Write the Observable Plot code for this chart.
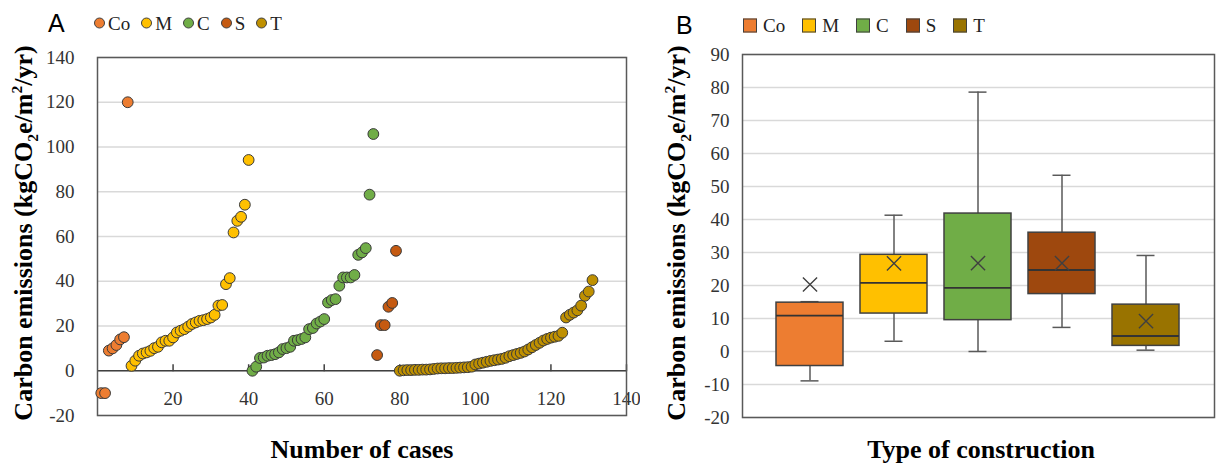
<!DOCTYPE html>
<html><head><meta charset="utf-8">
<script src="https://cdn.jsdelivr.net/npm/d3@7"></script>
<script src="https://cdn.jsdelivr.net/npm/@observablehq/plot@0.6"></script>
<style>
body{margin:0;background:#fff;}
#wrap{position:relative;width:1216px;height:464px;overflow:hidden;font-family:"Liberation Serif","Times New Roman",serif;color:#000;}
.svgbox{position:absolute;}
svg text, svg tspan, svg g{font-family:"Liberation Serif","Times New Roman",serif !important;}
.ytitle{position:absolute;font-weight:bold;font-size:26px;line-height:1;white-space:nowrap;transform:translate(-50%,-50%) rotate(-90deg);}
.ytitle sub,.ytitle sup{font-size:0.6em;line-height:0;}
.xtitle{position:absolute;font-weight:bold;font-size:26px;line-height:1;white-space:nowrap;transform:translate(-50%,-50%);}
.panel{position:absolute;font-family:"Liberation Sans",Arial,sans-serif;font-size:25px;line-height:1;transform:translateY(-50%);}
.leg{position:absolute;display:flex;align-items:center;font-size:19px;line-height:1;transform:translateY(-50%);color:#222;}
.item{display:flex;align-items:center;}
.sw{display:inline-block;box-sizing:border-box;border:1px solid #404040;}
</style></head>
<body><div id="wrap"></div>
<script>
// ---- data ----
const groups = ["Co", "M", "C", "S", "T"];
const coVals = [-10, -10, 9, 10, 11.5, 14, 15, 120];
const mVals = [2.2, 4.5, 6.7, 7.7, 8.2, 8.9, 10.1, 10.7, 12.7, 13.4, 13.4, 14.9, 17.1, 17.9, 18.6, 19.7, 20.9, 21.6, 22.3, 22.6, 23.1, 23.8, 25.0, 29.1, 29.4, 38.7, 41.4, 61.8, 67.0, 68.8, 74.2, 94.2];
const cVals = [0, 1.8, 5.7, 5.9, 6.7, 7.0, 7.4, 8.2, 9.7, 10.1, 10.7, 13.4, 13.7, 14.2, 14.9, 18.6, 19.1, 21.1, 22.0, 23.1, 30.5, 31.6, 32.0, 38.0, 41.7, 41.7, 41.7, 42.8, 51.8, 52.9, 54.8, 78.7, 105.8];
const sVals = [7.0, 20.4, 20.4, 28.6, 30.3, 53.6];
const tVals = [0, 0.2, 0.3, 0.3, 0.4, 0.4, 0.5, 0.5, 0.6, 0.8, 1.0, 1.1, 1.1, 1.2, 1.2, 1.3, 1.4, 1.5, 1.6, 1.8, 2.8, 3.2, 3.6, 4.0, 4.4, 4.7, 5.0, 5.3, 5.8, 6.5, 7.0, 7.5, 8.0, 8.6, 9.5, 10.5, 11.5, 12.5, 13.5, 14.2, 14.8, 15.2, 15.6, 17.0, 23.8, 25.0, 26.0, 27.0, 29.1, 33.5, 35.4, 40.5];

const boxMin    = [-8.9, 3.1, 0.0, 7.3, 0.4];
const boxQ1     = [-4.4, 11.5, 9.5, 17.4, 1.7];
const boxMedian = [10.9, 20.8, 19.3, 24.7, 4.7];
const boxQ3     = [14.8, 29.3, 41.8, 36.0, 14.2];
const boxMax    = [15.1, 41.3, 78.6, 53.4, 29.1];
const boxMean   = [20.3, 26.7, 26.8, 26.8, 9.2];

const xTicksA = [20, 40, 60, 80, 100, 120, 140];
const yTicksA = [-20, 0, 20, 40, 60, 80, 100, 120, 140];
const yTicksB = [-20, -10, 0, 10, 20, 30, 40, 50, 60, 70, 80, 90];

const scatterColors = ["#ED7D31", "#FFC000", "#70AD47", "#C55A11", "#BF9000"];
const boxColors = ["#ED7D31", "#FFC000", "#70AD47", "#9E480E", "#997300"];

// ---- tables ----
const rows = [];
let n = 0;
[coVals, mVals, cVals, sVals, tVals].forEach((vals, gi) => {
  vals.forEach(v => { n += 1; rows.push({case: n, value: v, group: groups[gi]}); });
});
const boxes = groups.map((g, i) => ({group: g, min: boxMin[i], q1: boxQ1[i], median: boxMedian[i], q3: boxQ3[i], max: boxMax[i], mean: boxMean[i]}));

const wrap = document.getElementById("wrap");
const serif = "'Liberation Serif', 'Times New Roman', serif";
const fmt = d => d < 0 ? "-" + Math.abs(d) : String(d);

function serifize(svg) {
  svg.setAttribute("font-family", serif);
  svg.querySelectorAll("text, tspan, g").forEach(t => {
    t.setAttribute("font-family", serif);
    t.style.setProperty("font-family", serif, "important");
  });
}

// ---- Panel A ----
const A = {w: 640, h: 424, mt: 17, mb: 49, ml: 97, mr: 14};
const zeroOffset = (140 - 0) / (140 - (-20)) * (A.h - A.mt - A.mb);
const plotA = Plot.plot({
  width: A.w, height: A.h, marginTop: A.mt, marginBottom: A.mb, marginLeft: A.ml, marginRight: A.mr,
  style: {fontFamily: serif, fontSize: "19px", color: "#333", background: "transparent"},
  x: {domain: [0, 140], label: null},
  y: {domain: [-20, 140], label: null},
  color: {domain: groups, range: scatterColors},
  marks: [
    Plot.gridY(yTicksA, {stroke: "#d9d9d9", strokeOpacity: 1, strokeWidth: 1.3}),
    Plot.axisY(yTicksA, {tickSize: 0, tickPadding: 23, fontSize: 19, fontFamily: serif, tickFormat: fmt, label: null}),
    Plot.ruleY([0], {stroke: "#404040", strokeWidth: 1.5}),
    Plot.axisX(xTicksA, {anchor: "top", tickSize: 7, tickFormat: () => "", dy: zeroOffset, label: null, stroke: "#404040", strokeWidth: 1.5}),
    Plot.axisX(xTicksA, {anchor: "bottom", tickSize: 0, dy: -33, fontSize: 19, fontFamily: serif, tickFormat: fmt, label: null}),
    Plot.frame({stroke: "#595959", strokeWidth: 1.5}),
    Plot.dot(rows, {x: "case", y: "value", fill: "group", stroke: "#3a3a3a", strokeWidth: 1, r: 5.4, fillOpacity: 1})
  ]
});
plotA.classList.add("svgbox");
plotA.style.left = "0px"; plotA.style.top = "40px";
serifize(plotA);
wrap.appendChild(plotA);

// ---- Panel B ----
const B = {w: 576, h: 424, mt: 14, mb: 47, ml: 102, mr: 2};
const whisk = {stroke: "#595959", strokeWidth: 1.5};
const plotB = Plot.plot({
  width: B.w, height: B.h, marginTop: B.mt, marginBottom: B.mb, marginLeft: B.ml, marginRight: B.mr,
  style: {fontFamily: serif, fontSize: "18px", color: "#333", background: "transparent"},
  x: {domain: groups, paddingInner: 0.2, paddingOuter: 0.385, axis: null},
  y: {domain: [-20, 90], label: null},
  color: {domain: groups, range: boxColors},
  marks: [
    Plot.gridY(yTicksB, {stroke: "#d9d9d9", strokeOpacity: 1, strokeWidth: 1.3}),
    Plot.axisY(yTicksB, {tickSize: 0, tickPadding: 13, fontSize: 19, fontFamily: serif, tickFormat: fmt, label: null}),
    Plot.ruleX(boxes, {x: "group", y1: "min", y2: "q1", ...whisk}),
    Plot.ruleX(boxes, {x: "group", y1: "q3", y2: "max", ...whisk}),
    Plot.tickY(boxes, {x: "group", y: "min", insetLeft: 24.5, insetRight: 24.5, ...whisk}),
    Plot.tickY(boxes, {x: "group", y: "max", insetLeft: 24.5, insetRight: 24.5, ...whisk}),
    Plot.barY(boxes, {x: "group", y1: "q1", y2: "q3", fill: "group", stroke: "#404040", strokeWidth: 1.5}),
    Plot.tickY(boxes, {x: "group", y: "median", stroke: "#333", strokeWidth: 1.8}),
    Plot.dot(boxes, {x: "group", y: "mean", symbol: "times", r: 6.5, stroke: "#404040", strokeWidth: 1.4}),
    Plot.frame({stroke: "#595959", strokeWidth: 1.5})
  ]
});
plotB.classList.add("svgbox");
plotB.style.left = "640px"; plotB.style.top = "40px";
serifize(plotB);
wrap.appendChild(plotB);

// ---- titles & legends (HTML, outside the SVGs) ----
function el(tag, cls, html, css) {
  const e = document.createElement(tag);
  if (cls) e.className = cls;
  e.innerHTML = html;
  Object.assign(e.style, css || {});
  wrap.appendChild(e);
  return e;
}
const yTitle = "Carbon emissions (kgCO<sub>2</sub>e/m<sup>2</sup>/yr)";
el("div", "ytitle", yTitle, {left: "24px", top: "233px"});
el("div", "ytitle", yTitle, {left: "677px", top: "233px"});
el("div", "xtitle", "Number of cases", {left: "362px", top: "450px"});
el("div", "xtitle", "Type of construction", {left: "981px", top: "450px"});
el("div", "panel", "A", {left: "48px", top: "23px"});
el("div", "panel", "B", {left: "676px", top: "25px"});

const legA = el("div", "leg", "", {left: "94px", top: "23px", gap: "11px"});
groups.forEach((g, i) => {
  const it = document.createElement("div");
  it.className = "item";
  it.innerHTML = `<span class="sw" style="width:11px;height:11px;border-radius:50%;background:${scatterColors[i]};margin-right:3px"></span><span>${g}</span>`;
  legA.appendChild(it);
});
const legB = el("div", "leg", "", {left: "743px", top: "25px", gap: "17px"});
groups.forEach((g, i) => {
  const it = document.createElement("div");
  it.className = "item";
  it.innerHTML = `<span class="sw" style="width:14px;height:14px;background:${boxColors[i]};margin-right:6px"></span><span>${g}</span>`;
  legB.appendChild(it);
});
</script>
</body></html>
